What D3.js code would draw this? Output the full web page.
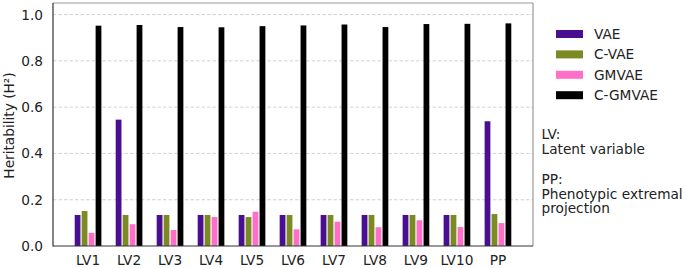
<!DOCTYPE html>
<html><head><meta charset="utf-8">
<script src="https://cdn.jsdelivr.net/npm/d3@7"></script>
<style>body{margin:0;background:#fff;}svg{display:block;font-family:"DejaVu Sans",sans-serif;}</style>
</head><body>
<svg id="chart" width="685" height="268"></svg>
<script>
const categories = ["LV1","LV2","LV3","LV4","LV5","LV6","LV7","LV8","LV9","LV10","PP"];
const seriesNames = ["VAE","C-VAE","GMVAE","C-GMVAE"];
const vae    = [0.134,0.546,0.134,0.134,0.134,0.134,0.134,0.134,0.134,0.134,0.539];
const cvae   = [0.151,0.134,0.134,0.134,0.125,0.134,0.134,0.134,0.134,0.134,0.138];
const gmvae  = [0.057,0.094,0.069,0.125,0.148,0.072,0.105,0.081,0.111,0.082,0.099];
const cgmvae = [0.952,0.955,0.946,0.945,0.950,0.953,0.957,0.946,0.959,0.960,0.962];
const yTicks = [0.0,0.2,0.4,0.6,0.8,1.0];
const colors = ["#4a0e90","#7b8a22","#ff6ec7","#000000"];
const series = [vae,cvae,gmvae,cgmvae];

const svg = d3.select("#chart");
const L=53, R=533, T=3, B=246;
const FS = 13.7;
const x = d3.scaleLinear().domain([-0.855,10.855]).range([L,R]);
const y = d3.scaleLinear().domain([0,1.05]).range([B,T]);
const w = 0.17;

// grid
svg.append("g").selectAll("line").data(yTicks.filter(d=>d>0)).join("line")
  .attr("x1",L).attr("x2",R).attr("y1",d=>y(d)).attr("y2",d=>y(d))
  .attr("stroke","#c8c8c8").attr("stroke-width",0.8).attr("stroke-dasharray","3.5,2");

// bars
series.forEach((vals,k)=>{
  svg.append("g").selectAll("rect").data(vals).join("rect")
    .attr("x",(d,i)=>x(i+(k-2)*w)+0.6)
    .attr("width",x(w)-x(0)-1.2)
    .attr("y",d=>y(d))
    .attr("height",d=>B-y(d))
    .attr("fill",colors[k]);
});

// spines
svg.append("line").attr("x1",L).attr("x2",R).attr("y1",T).attr("y2",T).attr("stroke","#999").attr("stroke-width",1.2);
svg.append("line").attr("x1",R).attr("x2",R).attr("y1",T).attr("y2",B).attr("stroke","#999").attr("stroke-width",1.2);
svg.append("line").attr("x1",L).attr("x2",L).attr("y1",T).attr("y2",B+0.6).attr("stroke","#333").attr("stroke-width",1.2);
svg.append("line").attr("x1",L).attr("x2",R).attr("y1",B).attr("y2",B).attr("stroke","#333").attr("stroke-width",1.2);

// y tick labels
svg.append("g").selectAll("text").data(yTicks).join("text")
  .attr("x",43).attr("y",d=>y(d)).attr("dy","0.36em")
  .attr("text-anchor","end").attr("font-size",FS).attr("fill","#222")
  .text(d=>d.toFixed(1));

// x tick labels
svg.append("g").selectAll("text").data(categories).join("text")
  .attr("x",(d,i)=>x(i)).attr("y",265)
  .attr("text-anchor","middle").attr("font-size",FS).attr("fill","#222")
  .text(d=>d);

// y label
svg.append("text").attr("transform",`translate(14,${(T+B)/2+1}) rotate(-90)`)
  .attr("text-anchor","middle").attr("font-size",FS).attr("fill","#222")
  .text("Heritability (H²)");

// legend
const lg = svg.append("g");
seriesNames.forEach((n,k)=>{
  const yy = 34 + k*20.4;
  lg.append("rect").attr("x",556).attr("y",yy-4).attr("width",27).attr("height",8).attr("fill",colors[k]);
  lg.append("text").attr("x",594).attr("y",yy).attr("dy","0.36em").attr("font-size",FS).attr("fill","#222").text(n);
});

// notes
const notes = [["LV:",139],["Latent variable",154],["PP:",184],["Phenotypic extremal",198.5],["projection",213]];
svg.append("g").selectAll("text").data(notes).join("text")
  .attr("x",541.5).attr("y",d=>d[1]).attr("font-size",FS).attr("fill","#222").text(d=>d[0]);
</script>
</body></html>
